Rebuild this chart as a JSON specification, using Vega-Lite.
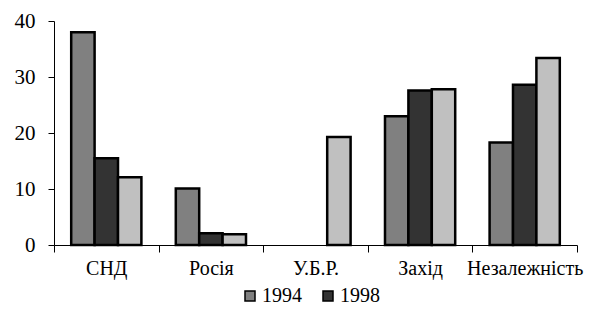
{
  "$schema": "https://vega.github.io/schema/vega-lite/v6.json",
  "width": 523,
  "height": 224,
  "autosize": {"type": "none"},
  "padding": {"left": 54, "top": 21, "right": 15, "bottom": 66},
  "background": "white",
  "config": {
    "view": {"stroke": null},
    "font": "Liberation Serif",
    "axis": {"labelFont": "Liberation Serif", "labelColor": "black", "domainColor": "black", "tickColor": "black", "grid": false, "title": null, "domainWidth": 1, "tickWidth": 1},
    "legend": {"labelFont": "Liberation Serif", "labelColor": "black"}
  },
  "data": {
    "values": [
      {"cat": "СНД", "year": "1994", "value": 38},
      {"cat": "СНД", "year": "1998", "value": 15.5},
      {"cat": "СНД", "year": "2000", "value": 12.1},
      {"cat": "Росія", "year": "1994", "value": 10.1},
      {"cat": "Росія", "year": "1998", "value": 2.1},
      {"cat": "Росія", "year": "2000", "value": 1.9},
      {"cat": "У.Б.Р.", "year": "2000", "value": 19.3},
      {"cat": "Захід", "year": "1994", "value": 23.0},
      {"cat": "Захід", "year": "1998", "value": 27.6},
      {"cat": "Захід", "year": "2000", "value": 27.8},
      {"cat": "Незалежність", "year": "1994", "value": 18.3},
      {"cat": "Незалежність", "year": "1998", "value": 28.6},
      {"cat": "Незалежність", "year": "2000", "value": 33.4}
    ]
  },
  "mark": {"type": "bar", "stroke": "black", "strokeWidth": 2.5},
  "encoding": {
    "x": {
      "field": "cat", "type": "nominal", "sort": ["СНД", "Росія", "У.Б.Р.", "Захід", "Незалежність"],
      "scale": {"paddingInner": 0, "paddingOuter": 0},
      "axis": {"labelAngle": 0, "labelFontSize": 20, "tickBand": "extent", "tickSize": 7, "labelPadding": 6}
    },
    "xOffset": {
      "field": "year", "type": "nominal", "sort": ["1994", "1998", "2000"],
      "scale": {"paddingInner": 0, "paddingOuter": 0.735}
    },
    "y": {
      "field": "value", "type": "quantitative",
      "scale": {"domain": [0, 40], "nice": false},
      "axis": {"values": [0, 10, 20, 30, 40], "labelFontSize": 21, "tickSize": 6, "labelPadding": 13}
    },
    "color": {
      "field": "year", "type": "nominal", "sort": ["1994", "1998", "2000"],
      "scale": {"domain": ["1994", "1998", "2000"], "range": ["#808080", "#333333", "#c0c0c0"]},
      "legend": {
        "values": ["1994", "1998"], "orient": "none", "legendX": 186, "legendY": 265, "direction": "horizontal", "title": null,
        "symbolType": "square", "symbolSize": 100, "symbolStrokeColor": "black", "symbolStrokeWidth": 1.5,
        "labelFontSize": 20, "labelOffset": 2, "columnPadding": 16
      }
    }
  }
}
